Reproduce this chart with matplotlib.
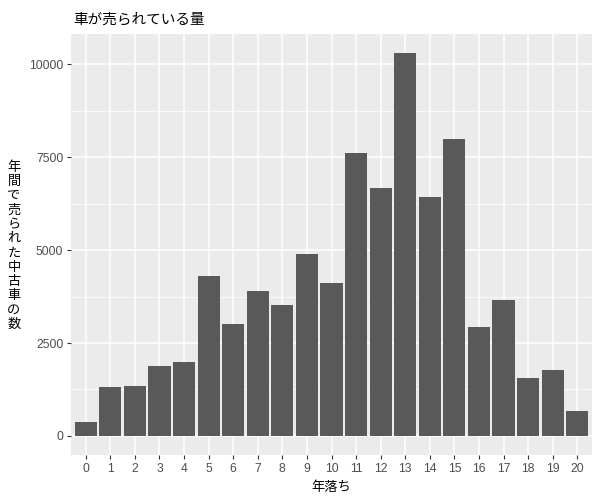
import matplotlib
matplotlib.use("Agg")
import matplotlib.pyplot as plt
from matplotlib.ticker import MultipleLocator, FixedLocator

plt.rcParams['font.family'] = ['Liberation Sans', 'Noto Sans CJK JP', 'DejaVu Sans']

# years since first registration and number of used cars sold per year
age = list(range(21))
sold = [377, 1318, 1345, 1883, 1991, 4305, 3013, 3901, 3524, 4897, 4116,
        7614, 6672, 10304, 6430, 7990, 2932, 3659, 1560, 1776, 673]

title = "車が売られている量"
xlabel = "年落ち"
ylabel = "年間で売られた中古車の数"

fig = plt.figure(figsize=(6, 5), dpi=100)
ax = fig.add_axes([71/600, 1 - 455/500, (592 - 71)/600, (455 - 34)/500])

ax.set_facecolor("#EBEBEB")
ax.bar(age, sold, width=0.9, color="#595959", zorder=3)

top = max(sold)
pad = top * 0.05
ax.set_ylim(-pad, top + pad)
ax.set_xlim(-0.6, 20.6)

ax.yaxis.set_major_locator(MultipleLocator(2500))
ax.yaxis.set_minor_locator(FixedLocator([1250, 3750, 6250, 8750]))
ax.set_xticks(age)
ax.set_xticklabels([str(a) for a in age])

ax.grid(which="major", color="white", linewidth=1.1, zorder=0)
ax.grid(which="minor", axis="y", color="white", linewidth=0.55, zorder=0)
ax.set_axisbelow(True)
for s in ax.spines.values():
    s.set_visible(False)

ax.tick_params(which="major", length=3, width=0.8, color="#333333",
               labelcolor="#4D4D4D", labelsize=8.7, pad=2.5)
ax.tick_params(which="minor", length=0)

ax.set_xlabel(xlabel, fontsize=9.5, color="black", labelpad=5)
fig.text(14/600, 1 - 246/500, "\n".join(ylabel), fontsize=9.5,
         ha="center", va="center", linespacing=1.25)
fig.text(73/600, 1 - 20/500, title, fontsize=10.5, ha="left", va="center")

fig.savefig("out.png", dpi=100)
